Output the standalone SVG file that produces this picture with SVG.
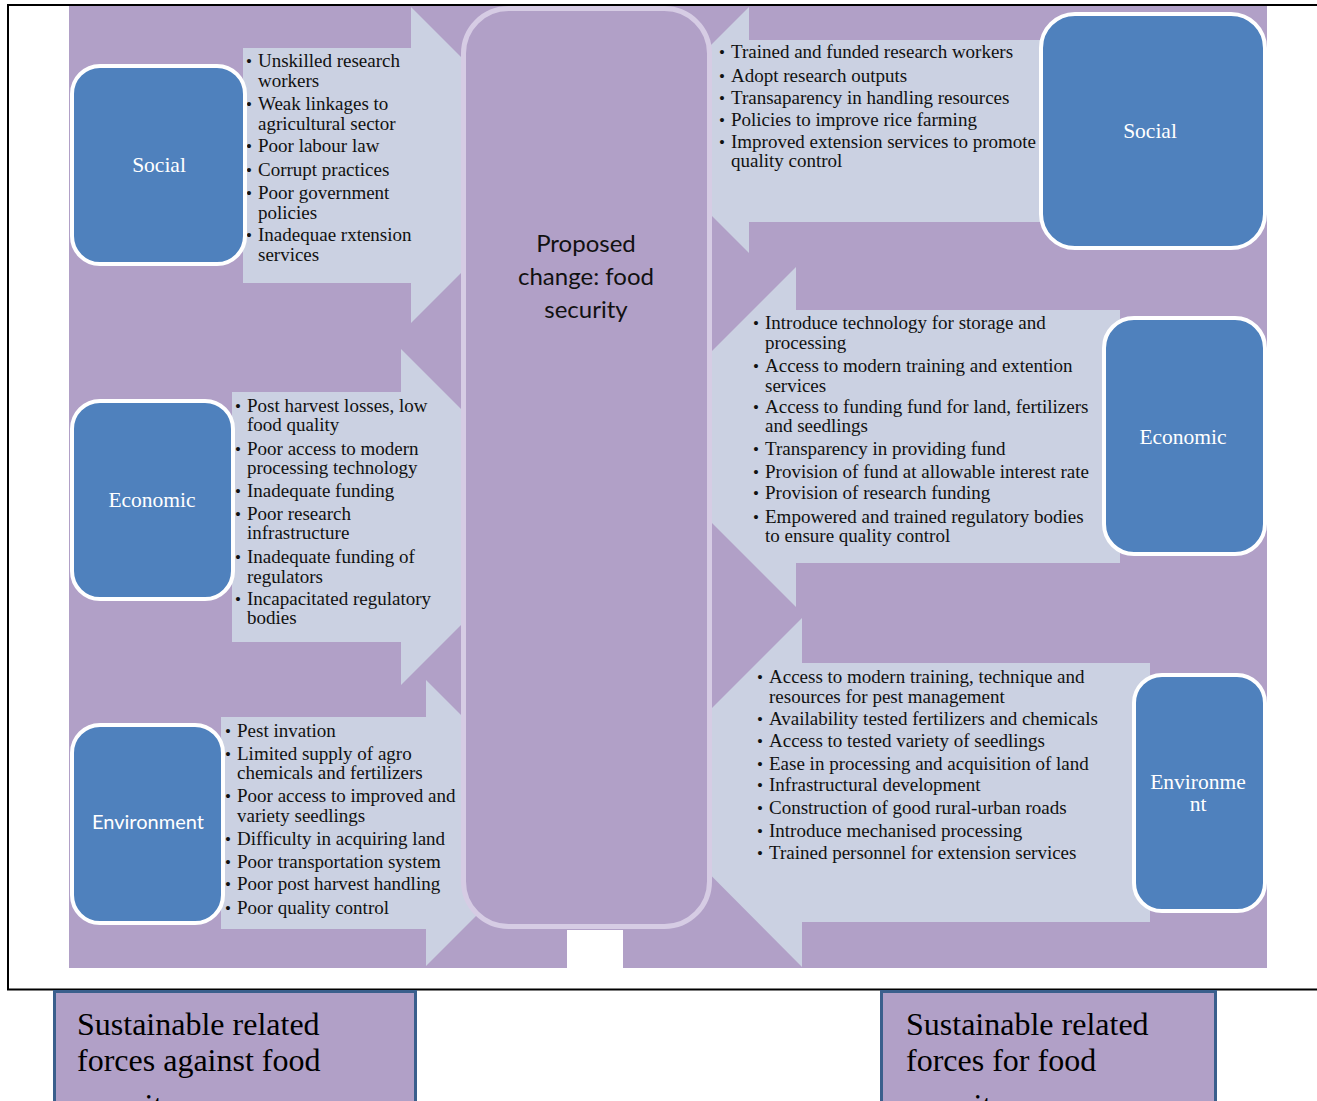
<svg xmlns="http://www.w3.org/2000/svg" width="1317" height="1101" viewBox="0 0 1317 1101">
  <defs>
    <style>
      .bg { fill: #B1A0C7; }
      .arrow { fill: #CBD1E2; }
      .factor { fill: #4F81BD; stroke: #FFFFFF; stroke-width: 4; }
      .hub { fill: #B1A0C7; stroke: #D6CCE4; stroke-width: 5; }
      .caption { fill: #B1A0C7; stroke: #3A5F8C; stroke-width: 3; }
      .frame { fill: none; stroke: #000000; stroke-width: 2; }
      .item { font-family: "Liberation Serif", "Times New Roman", serif; font-size: 19px; fill: #111111; }
      .dot { font-family: "Liberation Serif", "Times New Roman", serif; font-size: 17px; fill: #111111; }
      .label { font-family: "Liberation Serif", "Times New Roman", serif; font-size: 21.5px; fill: #FFFFFF; text-anchor: middle; }
      .label-sans { font-family: Lato, "Liberation Sans", sans-serif; font-size: 20px; fill: #FFFFFF; text-anchor: middle; }
      .hub-text { font-family: Lato, "Liberation Sans", sans-serif; font-size: 24px; fill: #111111; text-anchor: middle; }
      .cap-text { font-family: "Liberation Serif", "Times New Roman", serif; font-size: 32px; fill: #000000; }
    </style>
    <clipPath id="page">
      <rect x="0" y="0" width="1317" height="1101"/>
    </clipPath>
  </defs>

  <!-- canvas of the force-field chart -->
  <g id="background">
    <rect class="bg" x="69" y="6" width="1198" height="962"/>
    <rect x="567" y="930" width="56" height="39" fill="#FFFFFF"/>
  </g>

  <!-- block arrows carrying the forces toward the central change -->
  <g id="connectors">
    <polygon class="arrow" points="243,48 411,48 411,7 569,165 411,323 411,283 243,283"/>
    <polygon class="arrow" points="232,392 401,392 401,349 569,517 401,685 401,642 232,642"/>
    <polygon class="arrow" points="221,717 426,717 426,680 569,823 426,966 426,929 221,929"/>
    <polygon class="arrow" points="1060,40 749,40 749,7 626,130 749,253 749,222 1060,222"/>
    <polygon class="arrow" points="1120,310 796,310 796,267 626,437 796,607 796,563 1120,563"/>
    <polygon class="arrow" points="1150,663 802,663 802,618 628,792 802,967 802,922 1150,922"/>
  </g>

  <!-- forces against: social -->
  <g id="against-social-list">
    <text class="dot" x="246" y="67">•</text>
    <text class="item" x="258" y="67">Unskilled research</text>
    <text class="item" x="258" y="87">workers</text>
    <text class="dot" x="246" y="110">•</text>
    <text class="item" x="258" y="110">Weak linkages to</text>
    <text class="item" x="258" y="130">agricultural sector</text>
    <text class="dot" x="246" y="152">•</text>
    <text class="item" x="258" y="152">Poor labour law</text>
    <text class="dot" x="246" y="176">•</text>
    <text class="item" x="258" y="176">Corrupt practices</text>
    <text class="dot" x="246" y="199">•</text>
    <text class="item" x="258" y="199">Poor government</text>
    <text class="item" x="258" y="219">policies</text>
    <text class="dot" x="246" y="241">•</text>
    <text class="item" x="258" y="241">Inadequae rxtension</text>
    <text class="item" x="258" y="261">services</text>
  </g>

  <!-- forces against: economic -->
  <g id="against-economic-list">
    <text class="dot" x="235" y="412">•</text>
    <text class="item" x="247" y="412">Post harvest losses, low</text>
    <text class="item" x="247" y="431">food quality</text>
    <text class="dot" x="235" y="455">•</text>
    <text class="item" x="247" y="455">Poor access to modern</text>
    <text class="item" x="247" y="474">processing technology</text>
    <text class="dot" x="235" y="497">•</text>
    <text class="item" x="247" y="497">Inadequate funding</text>
    <text class="dot" x="235" y="520">•</text>
    <text class="item" x="247" y="520">Poor research</text>
    <text class="item" x="247" y="539">infrastructure</text>
    <text class="dot" x="235" y="563">•</text>
    <text class="item" x="247" y="563">Inadequate funding of</text>
    <text class="item" x="247" y="583">regulators</text>
    <text class="dot" x="235" y="605">•</text>
    <text class="item" x="247" y="605">Incapacitated regulatory</text>
    <text class="item" x="247" y="624">bodies</text>
  </g>

  <!-- forces against: environment -->
  <g id="against-environment-list">
    <text class="dot" x="225" y="737">•</text>
    <text class="item" x="237" y="737">Pest invation</text>
    <text class="dot" x="225" y="760">•</text>
    <text class="item" x="237" y="760">Limited supply of agro</text>
    <text class="item" x="237" y="779">chemicals and fertilizers</text>
    <text class="dot" x="225" y="802">•</text>
    <text class="item" x="237" y="802">Poor access to improved and</text>
    <text class="item" x="237" y="822">variety seedlings</text>
    <text class="dot" x="225" y="845">•</text>
    <text class="item" x="237" y="845">Difficulty in acquiring land</text>
    <text class="dot" x="225" y="868">•</text>
    <text class="item" x="237" y="868">Poor transportation system</text>
    <text class="dot" x="225" y="890">•</text>
    <text class="item" x="237" y="890">Poor post harvest handling</text>
    <text class="dot" x="225" y="914">•</text>
    <text class="item" x="237" y="914">Poor quality control</text>
  </g>

  <!-- forces for: social -->
  <g id="for-social-list">
    <text class="dot" x="719" y="58">•</text>
    <text class="item" x="731" y="58">Trained and funded research workers</text>
    <text class="dot" x="719" y="82">•</text>
    <text class="item" x="731" y="82">Adopt research outputs</text>
    <text class="dot" x="719" y="104">•</text>
    <text class="item" x="731" y="104">Transaparency in handling resources</text>
    <text class="dot" x="719" y="126">•</text>
    <text class="item" x="731" y="126">Policies to improve rice farming</text>
    <text class="dot" x="719" y="148">•</text>
    <text class="item" x="731" y="148">Improved extension services to promote</text>
    <text class="item" x="731" y="167">quality control</text>
  </g>

  <!-- forces for: economic -->
  <g id="for-economic-list">
    <text class="dot" x="753" y="329">•</text>
    <text class="item" x="765" y="329">Introduce technology for storage and</text>
    <text class="item" x="765" y="349">processing</text>
    <text class="dot" x="753" y="372">•</text>
    <text class="item" x="765" y="372">Access to modern training and extention</text>
    <text class="item" x="765" y="392">services</text>
    <text class="dot" x="753" y="413">•</text>
    <text class="item" x="765" y="413">Access to funding fund for land, fertilizers</text>
    <text class="item" x="765" y="432">and seedlings</text>
    <text class="dot" x="753" y="455">•</text>
    <text class="item" x="765" y="455">Transparency in providing fund</text>
    <text class="dot" x="753" y="478">•</text>
    <text class="item" x="765" y="478">Provision of fund at allowable interest rate</text>
    <text class="dot" x="753" y="499">•</text>
    <text class="item" x="765" y="499">Provision of research funding</text>
    <text class="dot" x="753" y="523">•</text>
    <text class="item" x="765" y="523">Empowered and trained regulatory bodies</text>
    <text class="item" x="765" y="542">to ensure quality control</text>
  </g>

  <!-- forces for: environment -->
  <g id="for-environment-list">
    <text class="dot" x="757" y="683">•</text>
    <text class="item" x="769" y="683">Access to modern training, technique and</text>
    <text class="item" x="769" y="703">resources for pest management</text>
    <text class="dot" x="757" y="725">•</text>
    <text class="item" x="769" y="725">Availability tested fertilizers and chemicals</text>
    <text class="dot" x="757" y="747">•</text>
    <text class="item" x="769" y="747">Access to tested variety of seedlings</text>
    <text class="dot" x="757" y="770">•</text>
    <text class="item" x="769" y="770">Ease in processing and acquisition of land</text>
    <text class="dot" x="757" y="791">•</text>
    <text class="item" x="769" y="791">Infrastructural development</text>
    <text class="dot" x="757" y="814">•</text>
    <text class="item" x="769" y="814">Construction of good rural-urban roads</text>
    <text class="dot" x="757" y="837">•</text>
    <text class="item" x="769" y="837">Introduce mechanised processing</text>
    <text class="dot" x="757" y="859">•</text>
    <text class="item" x="769" y="859">Trained personnel for extension services</text>
  </g>

  <!-- central change -->
  <g id="proposed-change">
    <rect class="hub" x="463.5" y="8.5" width="246" height="918" rx="45"/>
    <text class="hub-text" x="586" y="252">Proposed</text>
    <text class="hub-text" x="586" y="285">change: food</text>
    <text class="hub-text" x="586" y="318">security</text>
  </g>

  <!-- factor boxes, left column -->
  <g id="against-social">
    <rect class="factor" x="72" y="66" width="173" height="198" rx="28"/>
    <text class="label" x="159" y="172">Social</text>
  </g>
  <g id="against-economic">
    <rect class="factor" x="72" y="401" width="161" height="198" rx="28"/>
    <text class="label" x="152" y="507">Economic</text>
  </g>
  <g id="against-environment">
    <rect class="factor" x="72" y="725" width="151" height="198" rx="28"/>
    <text class="label-sans" x="148" y="829">Environment</text>
  </g>

  <!-- factor boxes, right column -->
  <g id="for-social">
    <rect class="factor" x="1041" y="14" width="224" height="234" rx="34"/>
    <text class="label" x="1150" y="138">Social</text>
  </g>
  <g id="for-economic">
    <rect class="factor" x="1104" y="318" width="161" height="236" rx="30"/>
    <text class="label" x="1183" y="444">Economic</text>
  </g>
  <g id="for-environment">
    <rect class="factor" x="1134" y="675" width="131" height="236" rx="28"/>
    <text class="label" x="1198" y="789">Environme</text>
    <text class="label" x="1198" y="811">nt</text>
  </g>

  <!-- page frame -->
  <path class="frame" d="M1317,5 H8 V989.5 H1317"/>

  <!-- captions under the chart; the third line runs past the page foot -->
  <g id="caption-against" clip-path="url(#page)">
    <rect class="caption" x="54.5" y="991.5" width="361" height="160"/>
    <text class="cap-text" x="77" y="1035">Sustainable related</text>
    <text class="cap-text" x="77" y="1071">forces against food</text>
    <text class="cap-text" x="77" y="1116">security</text>
  </g>
  <g id="caption-for" clip-path="url(#page)">
    <rect class="caption" x="881.5" y="991.5" width="334" height="160"/>
    <text class="cap-text" x="906" y="1035">Sustainable related</text>
    <text class="cap-text" x="906" y="1071">forces for food</text>
    <text class="cap-text" x="906" y="1116">security</text>
  </g>
</svg>
